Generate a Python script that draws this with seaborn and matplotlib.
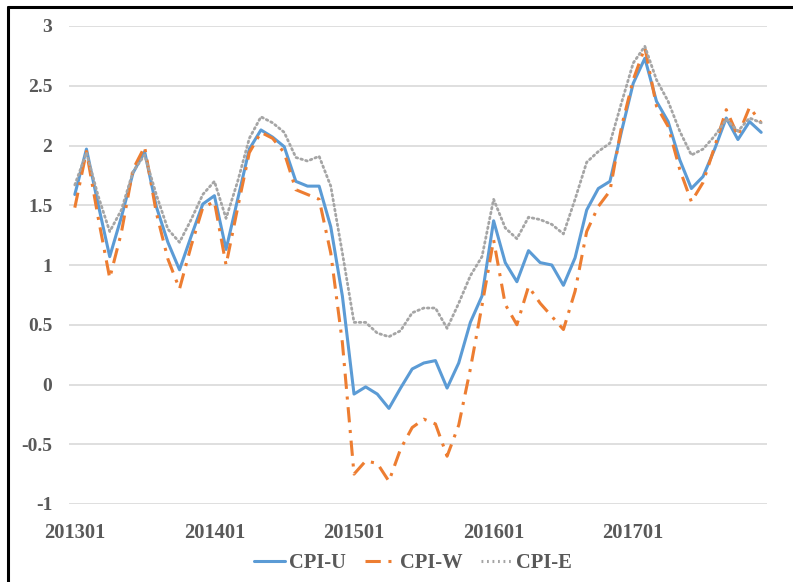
import numpy as np
import pandas as pd
import matplotlib
matplotlib.use("Agg")
import matplotlib.pyplot as plt
import seaborn as sns
from matplotlib.lines import Line2D

months = [f"{y}{m:02d}" for y in range(2013, 2018) for m in range(1, 13)]

cpi_u = [1.59, 1.97, 1.51, 1.07, 1.40, 1.77, 1.95, 1.49, 1.19, 0.96, 1.24, 1.51,
         1.58, 1.13, 1.55, 1.97, 2.13, 2.07, 1.99, 1.70, 1.66, 1.66, 1.32, 0.74,
         -0.08, -0.02, -0.08, -0.20, -0.03, 0.13, 0.18, 0.20, -0.03, 0.18, 0.52, 0.74,
         1.37, 1.02, 0.86, 1.12, 1.02, 1.00, 0.83, 1.06, 1.46, 1.64, 1.70, 2.12,
         2.52, 2.73, 2.37, 2.20, 1.88, 1.64, 1.74, 1.97, 2.23, 2.05, 2.20, 2.11]

cpi_w = [1.48, 1.95, 1.40, 0.89, 1.27, 1.80, 1.99, 1.44, 1.05, 0.80, 1.16, 1.48,
         1.53, 1.00, 1.48, 1.94, 2.11, 2.06, 1.94, 1.63, 1.59, 1.55, 1.10, 0.35,
         -0.75, -0.64, -0.66, -0.81, -0.54, -0.36, -0.29, -0.33, -0.60, -0.34, 0.13, 0.66,
         1.21, 0.67, 0.50, 0.82, 0.68, 0.57, 0.46, 0.78, 1.28, 1.49, 1.62, 2.16,
         2.55, 2.82, 2.33, 2.16, 1.80, 1.53, 1.69, 1.99, 2.30, 2.08, 2.32, 2.19]

cpi_e = [1.67, 1.94, 1.58, 1.28, 1.46, 1.78, 1.92, 1.59, 1.30, 1.19, 1.38, 1.59,
         1.70, 1.39, 1.70, 2.06, 2.24, 2.19, 2.11, 1.90, 1.87, 1.91, 1.66, 1.10,
         0.52, 0.52, 0.43, 0.40, 0.45, 0.60, 0.64, 0.64, 0.47, 0.68, 0.91, 1.07,
         1.55, 1.31, 1.22, 1.40, 1.38, 1.34, 1.26, 1.55, 1.86, 1.95, 2.02, 2.36,
         2.69, 2.83, 2.55, 2.37, 2.12, 1.92, 1.97, 2.08, 2.22, 2.12, 2.23, 2.19]

series_names = ["CPI-U", "CPI-W", "CPI-E"]
colors = {"CPI-U": "#5B9BD5", "CPI-W": "#ED7D31", "CPI-E": "#A5A5A5"}

df = pd.DataFrame({"month": months, "CPI-U": cpi_u, "CPI-W": cpi_w, "CPI-E": cpi_e})
df["idx"] = np.arange(len(months))
long = df.melt(id_vars=["month", "idx"], value_vars=series_names,
               var_name="series", value_name="value")

sns.set_style("white")
plt.rcParams["font.family"] = ["Liberation Serif", "DejaVu Serif"]
plt.rcParams["font.weight"] = "bold"

fig = plt.figure(figsize=(7.93, 5.82), dpi=100)
ax = fig.add_axes([69/793, 1 - 504/582, (767-69)/793, (504-26)/582])

sns.lineplot(data=long, x="idx", y="value", hue="series", style="series",
             hue_order=series_names, palette=colors, ax=ax, legend=False,
             dashes=False)

styles = {"CPI-U": "-", "CPI-W": (0, (5, 2.5, 1, 2.5)), "CPI-E": (0, (0.6, 1.2))}
for line, name in zip(ax.get_lines(), series_names):
    line.set_linestyle(styles[name])
    line.set_linewidth(2.2 if name != "CPI-E" else 2.0)
    if name == "CPI-E":
        line.set_dash_capstyle("round")

text_color = "#595959"
ax.set_xlim(-0.5, len(months) - 0.5)
ax.set_ylim(-1, 3)
ax.set_yticks(np.arange(-1, 3.01, 0.5))
ax.set_yticklabels(["-1", "-0.5", "0", "0.5", "1", "1.5", "2", "2.5", "3"])
tick_pos = [i for i, m in enumerate(months) if m.endswith("01")]
ax.set_xticks(tick_pos)
ax.set_xticklabels([months[i] for i in tick_pos])
ax.tick_params(axis="y", length=0, pad=12, labelsize=14, labelcolor=text_color)
ax.tick_params(axis="x", length=0, pad=14, labelsize=14.8, labelcolor=text_color)
for lab in ax.get_xticklabels() + ax.get_yticklabels():
    lab.set_fontweight("bold")
ax.set_xlabel("")
ax.set_ylabel("")
ax.grid(axis="y", color="#D9D9D9", linewidth=1.2)
ax.grid(axis="x", visible=False)
for s in ax.spines.values():
    s.set_visible(False)
ax.set_axisbelow(True)

handles = [Line2D([0], [0], color=colors[n], linestyle=styles[n], linewidth=2.2)
           for n in series_names]
fig.legend(handles, series_names, loc="center", bbox_to_anchor=(413/793, 1 - 563/582),
           ncol=3, frameon=False, handlelength=1.5, handletextpad=0.2,
           columnspacing=0.9, prop={"family": "Liberation Serif", "weight": "bold", "size": 14.8})
for t in fig.legends[0].get_texts():
    t.set_color(text_color)

fig.add_artist(Line2D([8/793, 8/793], [0, 1 - 7/582], transform=fig.transFigure,
                      color="black", linewidth=2.2))
fig.add_artist(Line2D([8/793, 1], [1 - 7/582, 1 - 7/582], transform=fig.transFigure,
                      color="black", linewidth=2.2))

fig.savefig("out.png", dpi=100)
